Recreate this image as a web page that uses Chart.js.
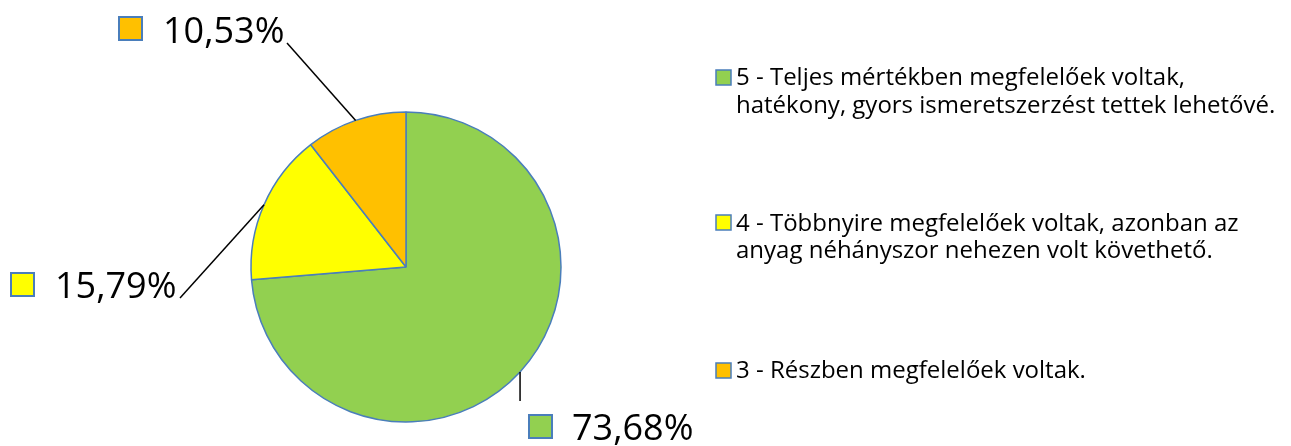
<!DOCTYPE html>
<html lang="hu">
<head>
  <meta charset="UTF-8">
  <title>Megfelelőség</title>
  <script src="https://cdn.jsdelivr.net/npm/chart.js"></script>
  <style>
    html, body {
      margin: 0;
      padding: 0;
      background: #fff;
    }
    #wrap {
      width: 1291px;
      height: 446px;
    }
  </style>
</head>
<body>
  <div id="wrap"><canvas id="pieChart"></canvas></div>

  <script>
    // adatok
    const categories = [
      ['5 - Teljes mértékben megfelelőek voltak,', 'hatékony, gyors ismeretszerzést tettek lehetővé.'],
      ['4 - Többnyire megfelelőek voltak, azonban az', 'anyag néhányszor nehezen volt követhető.'],
      ['3 - Részben megfelelőek voltak.']
    ];
    const shares = [73.68, 15.79, 10.53];
    const colors = ['#92D050', '#FFFF00', '#FFC000'];

    const edge = '#4A7EBB';
    const font = '"Open Sans", sans-serif';

    // where the callout labels and legend entries sit
    const calloutPos = [
      { end: 'down', lineTo: [521, 401], box: [529, 415], text: [572, 440] },
      { lineTo: [180, 298], box: [11, 273], text: [55, 298] },
      { lineTo: [287, 43], box: [119, 17], text: [163, 43] }
    ];
    const legendPos = [
      { box: [716, 70], lines: [85, 113] },
      { box: [716, 215], lines: [231, 258] },
      { box: [716, 363], lines: [378] }
    ];

    const fmt = v => v.toFixed(2).replace('.', ',') + '%';

    const labelsPlugin = {
      id: 'labelsPlugin',
      afterDraw(chart) {
        const ctx = chart.ctx;
        const arcs = chart.getDatasetMeta(0).data;
        ctx.save();

        arcs.forEach((arc, i) => {
          const p = calloutPos[i];
          const mid = (arc.startAngle + arc.endAngle) / 2;
          const ax = arc.x + Math.cos(mid) * arc.outerRadius;
          const ay = arc.y + Math.sin(mid) * arc.outerRadius;

          ctx.strokeStyle = '#000';
          ctx.lineWidth = 1.5;
          ctx.beginPath();
          ctx.moveTo(ax, ay);
          if (p.end === 'down') ctx.lineTo(ax, p.lineTo[1]);
          else ctx.lineTo(p.lineTo[0], p.lineTo[1]);
          ctx.stroke();

          ctx.fillStyle = colors[i];
          ctx.fillRect(p.box[0], p.box[1], 23, 23);
          ctx.strokeStyle = edge;
          ctx.lineWidth = 2;
          ctx.strokeRect(p.box[0], p.box[1], 23, 23);

          ctx.fillStyle = '#000';
          ctx.font = '36px ' + font;
          ctx.textBaseline = 'alphabetic';
          ctx.textAlign = 'left';
          ctx.fillText(fmt(shares[i]), p.text[0], p.text[1]);
        });

        // legend
        categories.forEach((lines, i) => {
          const p = legendPos[i];
          ctx.fillStyle = colors[i];
          ctx.fillRect(p.box[0], p.box[1], 15, 15);
          ctx.strokeStyle = edge;
          ctx.lineWidth = 1.5;
          ctx.strokeRect(p.box[0], p.box[1], 15, 15);

          ctx.fillStyle = '#000';
          ctx.font = '24px ' + font;
          lines.forEach((t, k) => {
            ctx.fillText(t, 736, p.lines[k]);
          });
        });

        ctx.restore();
      }
    };

    new Chart(document.getElementById('pieChart'), {
      type: 'pie',
      data: {
        labels: categories,
        datasets: [{
          data: shares,
          backgroundColor: colors,
          borderColor: edge,
          borderWidth: 1.5
        }]
      },
      options: {
        responsive: true,
        maintainAspectRatio: false,
        animation: false,
        radius: 155,
        layout: {
          padding: { left: 90, right: 569, top: 100, bottom: 12 }
        },
        plugins: {
          legend: { display: false },
          tooltip: { enabled: false }
        }
      },
      plugins: [labelsPlugin]
    });
  </script>
</body>
</html>
